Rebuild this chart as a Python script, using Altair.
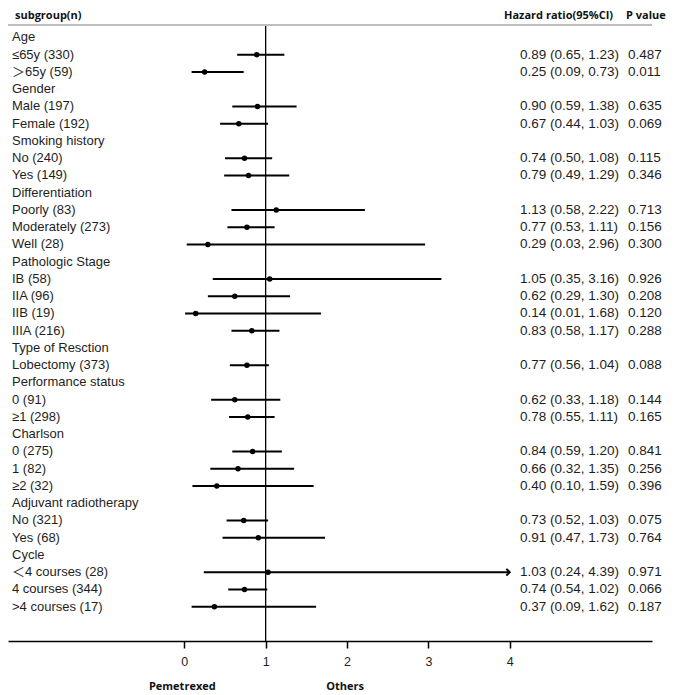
import altair as alt
import pandas as pd

labels = [
    "Age", "≤65y (330)", "＞65y (59)",
    "Gender", "Male (197)", "Female (192)",
    "Smoking history", "No (240)", "Yes (149)",
    "Differentiation", "Poorly (83)", "Moderately (273)", "Well (28)",
    "Pathologic Stage", "IB (58)", "IIA (96)", "IIB (19)", "IIIA (216)",
    "Type of Resction", "Lobectomy (373)",
    "Performance status", "0 (91)", "≥1 (298)",
    "Charlson", "0 (275)", "1 (82)", "≥2 (32)",
    "Adjuvant radiotherapy", "No (321)", "Yes (68)",
    "Cycle", "＜4 courses (28)", "4 courses (344)", ">4 courses (17)",
]
hr = [None, 0.89, 0.25, None, 0.90, 0.67, None, 0.74, 0.79, None, 1.13, 0.77, 0.29,
      None, 1.05, 0.62, 0.14, 0.83, None, 0.77, None, 0.62, 0.78, None, 0.84, 0.66, 0.40,
      None, 0.73, 0.91, None, 1.03, 0.74, 0.37]
lo = [None, 0.65, 0.09, None, 0.59, 0.44, None, 0.50, 0.49, None, 0.58, 0.53, 0.03,
      None, 0.35, 0.29, 0.01, 0.58, None, 0.56, None, 0.33, 0.55, None, 0.59, 0.32, 0.10,
      None, 0.52, 0.47, None, 0.24, 0.54, 0.09]
hi = [None, 1.23, 0.73, None, 1.38, 1.03, None, 1.08, 1.29, None, 2.22, 1.11, 2.96,
      None, 3.16, 1.30, 1.68, 1.17, None, 1.04, None, 1.18, 1.11, None, 1.20, 1.35, 1.59,
      None, 1.03, 1.73, None, 4.39, 1.02, 1.62]
pvals = [None, "0.487", "0.011", None, "0.635", "0.069", None, "0.115", "0.346", None,
         "0.713", "0.156", "0.300", None, "0.926", "0.208", "0.120", "0.288", None, "0.088",
         None, "0.144", "0.165", None, "0.841", "0.256", "0.396", None, "0.075", "0.764",
         None, "0.971", "0.066", "0.187"]
x_ticks = [0, 1, 2, 3, 4]
x_max_drawn = 4
direction_labels = ["Pemetrexed", "Others"]
direction_pos = [0, 2]

df = pd.DataFrame({"label": labels, "hr": hr, "lo": lo, "hi": hi, "p": pvals})
df["row"] = range(len(df))
df["hr_text"] = [
    "" if h is None or pd.isna(h) else f"{h:.2f} ({l:.2f}, {u:.2f})"
    for h, l, u in zip(hr, lo, hi)
]
est = df.dropna(subset=["hr"]).copy()
est["hi_draw"] = est["hi"].clip(upper=x_max_drawn)
arrows = est[est["hi"] > x_max_drawn]

W, H = 644, 633
FONT = "Liberation Sans, Arial, Noto Sans CJK SC, sans-serif"
HFONT = "Open Sans, DejaVu Sans, sans-serif"
INK = "#1e1e1e"

xscale = alt.Scale(domain=[-2.167, 5.749], nice=False, zero=False)
yscale = alt.Scale(domain=[-1.710, 34.986], nice=False, zero=False, reverse=True)
xaxis = alt.Axis(values=x_ticks, format="d", title=None, grid=False,
                 domainColor="#000", domainWidth=1.5, tickColor="#000", tickWidth=1.5,
                 tickSize=7, labelFontSize=12.5, labelFont=FONT, labelColor=INK,
                 labelPadding=7, labelFlush=False)
Y = alt.Y("row:Q", scale=yscale, axis=None)

ci = alt.Chart(est).mark_rule(color="#000", strokeWidth=2.2).encode(
    x=alt.X("lo:Q", scale=xscale, axis=xaxis), x2="hi_draw:Q", y=Y)
dots = alt.Chart(est).mark_circle(color="#000", opacity=1, size=30).encode(
    x=alt.X("hr:Q", scale=xscale, axis=xaxis), y=Y)
arrow = alt.Chart(arrows).mark_point(
    shape="M-1,-1L0,0L-1,1", filled=False, color="#000", strokeWidth=2, size=45,
    opacity=1).encode(x=alt.X("hi_draw:Q", scale=xscale, axis=xaxis), y=Y)

refline = alt.Chart(pd.DataFrame({"v": [1]})).mark_rule(color="#000", strokeWidth=1.3).encode(
    x=alt.X("v:Q", scale=xscale, axis=xaxis), y=alt.value(18), y2=alt.value(H))

head_rule = alt.Chart(pd.DataFrame({"v": [0]})).mark_rule(color="#a8a8a8", strokeWidth=1.5).encode(
    x=alt.value(0), x2=alt.value(W), y=alt.value(17))

left_txt = alt.Chart(df).mark_text(align="left", baseline="middle", font=FONT,
                                   fontSize=13, color=INK).encode(
    x=alt.value(4), y=Y, text="label:N")
hr_txt = alt.Chart(est).mark_text(align="left", baseline="middle", font=FONT,
                                  fontSize=13.5, color=INK).encode(
    x=alt.value(512), y=Y, text="hr_text:N")
p_txt = alt.Chart(est).mark_text(align="left", baseline="middle", font=FONT,
                                 fontSize=13.5, color=INK).encode(
    x=alt.value(620), y=Y, text="p:N")


def header(txt, xpx):
    return alt.Chart(pd.DataFrame({"t": [txt]})).mark_text(
        align="left", baseline="middle", font=HFONT, fontSize=11, fontWeight="bold",
        color="#111").encode(x=alt.value(xpx), y=alt.value(8), text="t:N")


dir_df = pd.DataFrame({"t": direction_labels, "x": direction_pos})
dir_txt = alt.Chart(dir_df).mark_text(align="center", baseline="middle", font=HFONT,
                                      fontSize=11, fontWeight="bold", color="#111", dx=-2).encode(
    x=alt.X("x:Q", scale=xscale, axis=xaxis), y=alt.value(679), text="t:N")

chart = alt.layer(
    head_rule, refline, ci, dots, arrow, left_txt, hr_txt, p_txt,
    header("subgroup(n)", 7), header("Hazard ratio(95%CI)", 496), header("P value", 618),
    dir_txt,
).properties(
    width=W, height=H,
    padding={"left": 0, "top": 0, "right": 15, "bottom": 52},
    autosize=alt.AutoSizeParams(type="none"),
    background="white",
).configure_view(stroke=None)

chart.save("out.html", embed_options={"renderer": "svg", "actions": False})
